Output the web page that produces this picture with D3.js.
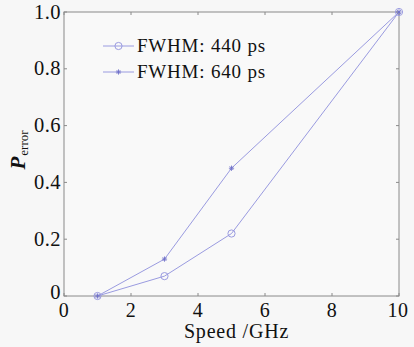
<!DOCTYPE html>
<html><head><meta charset="utf-8">
<script src="https://cdn.jsdelivr.net/npm/d3@7"></script>
<style>html,body{margin:0;padding:0;background:#f7f7f7;}svg{display:block;}
svg text{font-family:"Liberation Serif", "Times New Roman", serif;}</style>
</head><body><svg id="c" width="414" height="347"></svg>
<script>
const speeds = [1, 3, 5, 10];
const fwhm440 = [0, 0.07, 0.22, 1.0];
const fwhm640 = [0, 0.13, 0.45, 1.0];
const seriesNames = ["FWHM: 440 ps", "FWHM: 640 ps"];
const xTicks = [0, 2, 4, 6, 8, 10];
const yTicks = [0, 0.2, 0.4, 0.6, 0.8, 1.0];

const svg = d3.select("#c");
const m = {l: 64, r: 399, t: 12, b: 296};
const x = d3.scaleLinear().domain([0, 10]).range([m.l, m.r]);
const y = d3.scaleLinear().domain([0, 1]).range([m.b, m.t]);
const axisCol = "#8a8a8a";
const lineCol = "#9a9be0";

svg.append("rect").attr("x", m.l).attr("y", m.t).attr("width", m.r - m.l).attr("height", m.b - m.t)
  .attr("fill", "#f9f9f9").attr("stroke", axisCol).attr("stroke-width", 1);

const tl = 3;
xTicks.forEach(v => {
  svg.append("line").attr("x1", x(v)).attr("x2", x(v)).attr("y1", m.b).attr("y2", m.b - tl).attr("stroke", axisCol);
  svg.append("line").attr("x1", x(v)).attr("x2", x(v)).attr("y1", m.t).attr("y2", m.t + tl).attr("stroke", axisCol);
  svg.append("text").attr("x", x(v) + (v === 10 ? -1 : 0)).attr("y", m.b + 21).attr("text-anchor", "middle")
    .style("font-size", "20px").style("letter-spacing", "0.5px").attr("fill", "#111").text(d3.format("d")(v));
});
yTicks.forEach(v => {
  svg.append("line").attr("x1", m.l).attr("x2", m.l + tl).attr("y1", y(v)).attr("y2", y(v)).attr("stroke", axisCol);
  svg.append("line").attr("x1", m.r).attr("x2", m.r - tl).attr("y1", y(v)).attr("y2", y(v)).attr("stroke", axisCol);
  svg.append("text").attr("x", m.l - 3).attr("y", y(v) + (v === 0 ? 3 : 6.5)).attr("text-anchor", "end")
    .style("font-size", "20.5px").style("letter-spacing", "0.5px").attr("fill", "#111").text(v === 0 ? "0" : d3.format(".1f")(v));
});

svg.append("text").attr("x", x(5.15)).attr("y", 338).attr("text-anchor", "middle")
  .style("font-size", "20px").style("letter-spacing", "0.8px").attr("fill", "#111").text("Speed /GHz");
const yl = svg.append("text").attr("transform", `translate(25,150) rotate(-90)`)
  .attr("text-anchor", "middle").attr("fill", "#111");
yl.append("tspan").style("font-size", "21px").style("font-style", "italic").style("font-weight", "bold").text("P");
yl.append("tspan").style("font-size", "13px").attr("dx", 1).attr("dy", 3).text("error");

const line = d3.line().x((d, i) => x(speeds[i])).y(d => y(d));
[fwhm440, fwhm640].forEach(s => {
  svg.append("path").attr("d", line(s)).attr("fill", "none").attr("stroke", lineCol).attr("stroke-width", 1);
});

function circ(g, cx, cy) {
  g.append("circle").attr("cx", cx).attr("cy", cy).attr("r", 3.6).attr("fill", "none").attr("stroke", lineCol).attr("stroke-width", 1);
}
function star(g, cx, cy) {
  const s = 2.6;
  [[s, 0], [0, s], [s * 0.7, s * 0.7], [s * 0.7, -s * 0.7]].forEach(([dx, dy]) => {
    g.append("line").attr("x1", cx - dx).attr("x2", cx + dx).attr("y1", cy - dy).attr("y2", cy + dy)
      .attr("stroke", "#6f71c8").attr("stroke-width", 0.9);
  });
}
fwhm440.forEach((v, i) => circ(svg, x(speeds[i]), y(v)));
fwhm640.forEach((v, i) => star(svg, x(speeds[i]), y(v)));

const lg = [[46, circ], [72, star]];
seriesNames.forEach((n, i) => {
  const ly = lg[i][0];
  svg.append("line").attr("x1", 103).attr("x2", 134).attr("y1", ly).attr("y2", ly).attr("stroke", lineCol);
  lg[i][1](svg, 118.5, ly);
  svg.append("text").attr("x", 137).attr("y", ly + 6).style("font-size", "19px")
    .style("letter-spacing", "0.8px").attr("fill", "#111").text(n);
});
</script></body></html>
